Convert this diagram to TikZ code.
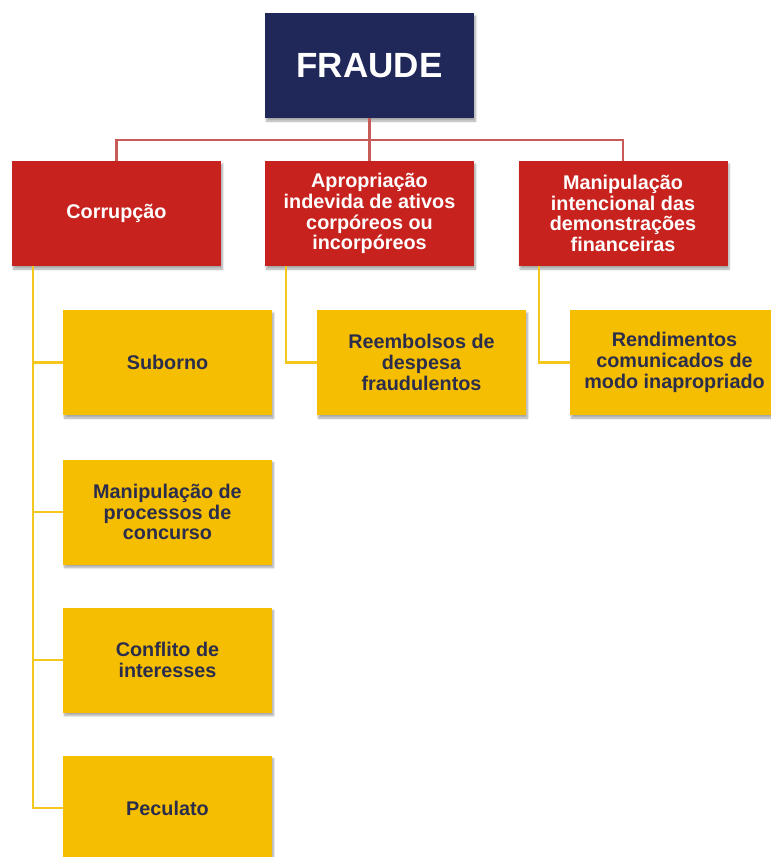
\documentclass[tikz,border=0pt]{standalone}
\usepackage{fontspec}
\setmainfont{Liberation Sans}
\usetikzlibrary{shadows.blur}
\definecolor{navy}{HTML}{1F2859}
\definecolor{fraudred}{HTML}{C8221E}
\definecolor{gold}{HTML}{F6BE00}
\definecolor{redline}{HTML}{C85A58}
\definecolor{goldline}{HTML}{F5C61C}
\definecolor{ink}{HTML}{2B2D4C}
\tikzset{
  box/.style={minimum width=209pt, minimum height=105pt, align=center, inner sep=2pt,
    font=\fontsize{19.8}{20.8}\selectfont\bfseries,
    blur shadow={shadow blur steps=6, shadow xshift=1.5pt, shadow yshift=-3pt, shadow opacity=35}},
  rootbox/.style={box, fill=navy, text=white, font=\fontsize{35}{38}\selectfont\bfseries},
  catbox/.style={box, fill=fraudred, text=white},
  leafbox/.style={box, fill=gold, text=ink},
}
\begin{document}
\begin{tikzpicture}[x=1pt,y=-1pt]
\useasboundingbox (0,0) rectangle (771,857);
\node[rootbox] (1) at (369.5,65.5) {FRAUDE};
\node[catbox] (2) at (116.5,213.5) {Corrupção};
\node[catbox] (3) at (369.5,213.5) {Apropriação\\indevida de ativos\\corpóreos ou\\incorpóreos};
\node[catbox] (4) at (623,213.5) {Manipulação\\intencional das\\demonstrações\\financeiras};
\node[leafbox] (5) at (167.5,362.5) {Suborno};
\node[leafbox] (6) at (167.5,512) {Manipulação de\\processos de\\concurso};
\node[leafbox] (7) at (167.5,660) {Conflito de\\interesses};
\node[leafbox] (8) at (167.5,808) {Peculato};
\node[leafbox] (9) at (421.5,362.5) {Reembolsos de\\despesa\\fraudulentos};
\node[leafbox] (10) at (674.5,362.5) {Rendimentos\\comunicados de\\modo inapropriado};
\path[draw,redline,line width=2.4pt] (1.south) -- ++(0,22) -| (2.north);
\path[draw,redline,line width=2.4pt] (1.south) -- ++(0,22) -| (4.north);
\path[draw,redline,line width=2.4pt] (1.south) -- (3.north);
\path[draw,goldline,line width=2.2pt] (2.south west) ++(21,0) |- (5.west);
\path[draw,goldline,line width=2.2pt] (2.south west) ++(21,0) |- (6.west);
\path[draw,goldline,line width=2.2pt] (2.south west) ++(21,0) |- (7.west);
\path[draw,goldline,line width=2.2pt] (2.south west) ++(21,0) |- (8.west);
\path[draw,goldline,line width=2.2pt] (3.south west) ++(21,0) |- (9.west);
\path[draw,goldline,line width=2.2pt] (4.south west) ++(21,0) |- (10.west);
\end{tikzpicture}
\end{document}
